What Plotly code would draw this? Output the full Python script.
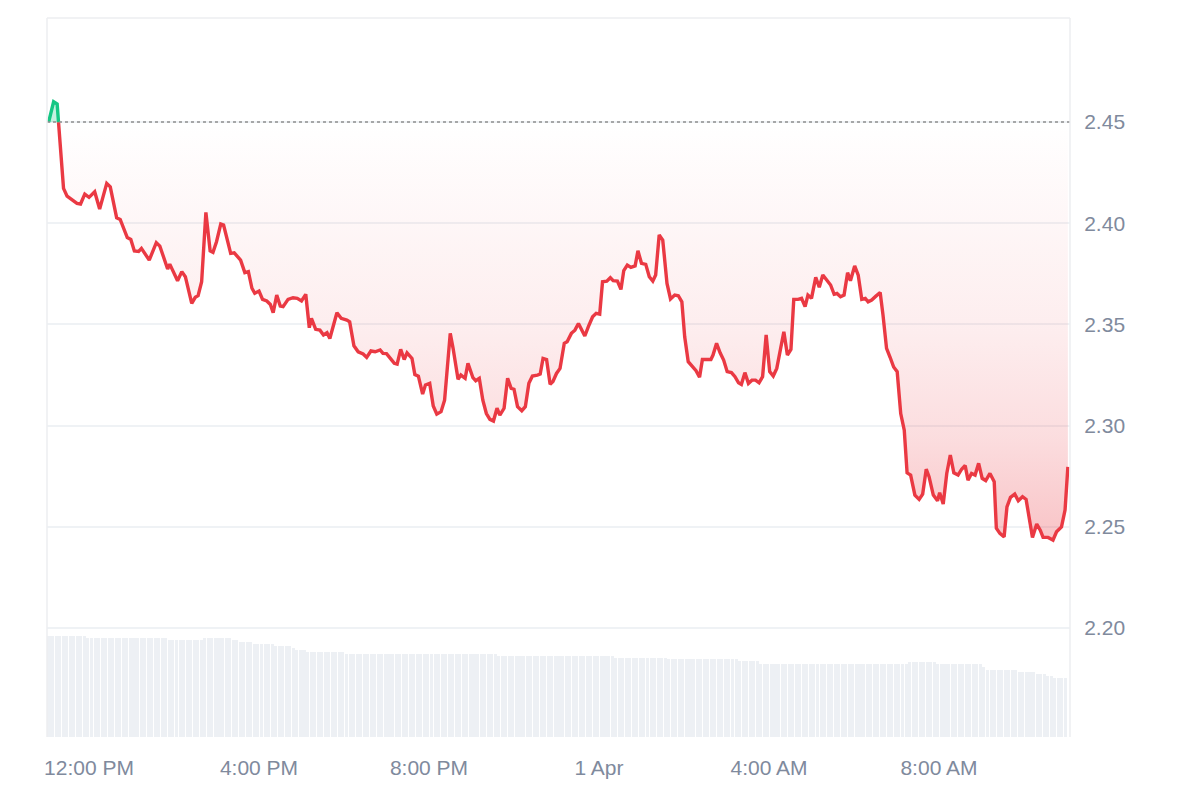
import plotly.graph_objects as go
from datetime import datetime, timedelta

# ---------------- data ----------------
BASE_PRICE = 2.45
series_start = datetime(2025, 3, 31, 11, 0)

# minutes after 11:00 AM (31 Mar) and price
price_minutes = [
    3, 10, 15, 24, 29, 36, 43, 48, 54, 60, 68, 75, 85, 90, 99, 104, 111, 114, 119, 124,
    130, 134, 145, 155, 160, 171, 174, 185, 191, 196, 205, 210, 214, 219, 225, 231, 235, 240, 246, 250,
    260, 265, 274, 280, 285, 290, 294, 300, 305, 311, 316, 320, 325, 330, 334, 341, 348, 354, 360, 366,
    371, 374, 380, 386, 391, 396, 400, 410, 416, 424, 428, 434, 440, 447, 452, 458, 464, 471, 475, 480,
    486, 491, 495, 500, 505, 509, 516, 520, 525, 531, 535, 541, 546, 551, 557, 562, 570, 574, 581, 585,
    591, 595, 602, 606, 611, 616, 621, 626, 631, 636, 640, 646, 651, 656, 660, 665, 671, 676, 681, 686,
    693, 697, 701, 706, 711, 715, 720, 725, 731, 735, 741, 746, 751, 756, 760, 765, 771, 776, 781, 785,
    791, 796, 800, 806, 811, 815, 820, 825, 831, 835, 840, 846, 851, 856, 860, 865, 870, 876, 881, 887,
    892, 897, 901, 906, 912, 917, 922, 926, 932, 938, 941, 946, 951, 956, 961, 967, 972, 977, 981, 986,
    991, 996, 1001, 1006, 1011, 1016, 1021, 1026, 1031, 1036, 1041, 1046, 1051, 1055, 1061, 1066, 1071, 1075, 1080, 1086,
    1091, 1096, 1101, 1107, 1112, 1116, 1121, 1126, 1131, 1135, 1141, 1146, 1151, 1156, 1160, 1165, 1171, 1177, 1181, 1186,
    1191, 1196, 1201, 1206, 1211, 1215, 1220, 1226, 1232, 1237, 1242, 1246, 1252, 1258, 1261, 1266, 1271, 1276, 1281, 1287,
    1292, 1297, 1301, 1306, 1311, 1316, 1321, 1326, 1332, 1338, 1341, 1346, 1352, 1356, 1361, 1367, 1372, 1378, 1383, 1387,
    1392, 1398, 1403, 1407, 1414, 1421, 1426, 1433, 1438, 1442,
]
price_values = [
    2.4500, 2.4600, 2.4589, 2.4172, 2.4134, 2.4115, 2.4098, 2.4095, 2.4144, 2.4128, 2.4156, 2.4070, 2.4197, 2.4180, 2.4027, 2.4019, 2.3950, 2.3929, 2.3920, 2.3863,
    2.3861, 2.3876, 2.3818, 2.3904, 2.3887, 2.3774, 2.3798, 2.3716, 2.3761, 2.3736, 2.3604, 2.3634, 2.3642, 2.3711, 2.4054, 2.3863, 2.3856, 2.3909, 2.3996, 2.3991,
    2.3851, 2.3854, 2.3818, 2.3756, 2.3761, 2.3679, 2.3654, 2.3665, 2.3624, 2.3616, 2.3599, 2.3558, 2.3645, 2.3591, 2.3588, 2.3624, 2.3632, 2.3629, 2.3616, 2.3649,
    2.3484, 2.3530, 2.3476, 2.3472, 2.3448, 2.3459, 2.3431, 2.3558, 2.3530, 2.3522, 2.3513, 2.3395, 2.3365, 2.3354, 2.3337, 2.3369, 2.3365, 2.3374, 2.3357, 2.3356,
    2.3330, 2.3308, 2.3304, 2.3377, 2.3327, 2.3360, 2.3332, 2.3253, 2.3245, 2.3156, 2.3201, 2.3209, 2.3097, 2.3057, 2.3069, 2.3126, 2.3456, 2.3382, 2.3229, 2.3250,
    2.3234, 2.3308, 2.3237, 2.3222, 2.3234, 2.3126, 2.3060, 2.3031, 2.3023, 2.3086, 2.3052, 2.3086, 2.3234, 2.3184, 2.3180, 2.3094, 2.3074, 2.3094, 2.3209, 2.3245,
    2.3250, 2.3255, 2.3332, 2.3327, 2.3205, 2.3218, 2.3258, 2.3283, 2.3407, 2.3415, 2.3456, 2.3472, 2.3505, 2.3472, 2.3443, 2.3489, 2.3538, 2.3555, 2.3551, 2.3711,
    2.3714, 2.3731, 2.3716, 2.3714, 2.3673, 2.3766, 2.3793, 2.3782, 2.3789, 2.3864, 2.3802, 2.3797, 2.3736, 2.3714, 2.3744, 2.3942, 2.3917, 2.3703, 2.3626, 2.3645,
    2.3642, 2.3612, 2.3439, 2.3316, 2.3291, 2.3272, 2.3239, 2.3327, 2.3327, 2.3327, 2.3349, 2.3407, 2.3360, 2.3324, 2.3267, 2.3262, 2.3242, 2.3212, 2.3204, 2.3262,
    2.3209, 2.3225, 2.3225, 2.3212, 2.3242, 2.3448, 2.3267, 2.3245, 2.3283, 2.3365, 2.3464, 2.3349, 2.3377, 2.3624, 2.3624, 2.3629, 2.3588, 2.3645, 2.3629, 2.3733,
    2.3684, 2.3744, 2.3719, 2.3695, 2.3649, 2.3653, 2.3637, 2.3645, 2.3756, 2.3716, 2.3789, 2.3744, 2.3624, 2.3629, 2.3612, 2.3621, 2.3640, 2.3658, 2.3546, 2.3382,
    2.3338, 2.3290, 2.3267, 2.3060, 2.2978, 2.2767, 2.2756, 2.2657, 2.2636, 2.2662, 2.2785, 2.2748, 2.2657, 2.2629, 2.2669, 2.2613, 2.2764, 2.2855, 2.2767, 2.2756,
    2.2785, 2.2803, 2.2731, 2.2764, 2.2756, 2.2814, 2.2740, 2.2729, 2.2764, 2.2723, 2.2493, 2.2468, 2.2451, 2.2599, 2.2646, 2.2662, 2.2629, 2.2649, 2.2636, 2.2547,
    2.2448, 2.2514, 2.2484, 2.2448, 2.2448, 2.2435, 2.2476, 2.2500, 2.2583, 2.2797,
]

# 5-minute volume bars (relative units), first bar centred at 11:03:30
volume_start = datetime(2025, 3, 31, 11, 3, 30)
volume_step_min = 5
volume_values = [
    101.0, 101.0, 101.0, 101.0, 101.0, 101.0, 101.0, 101.0, 101.0, 101.0, 101.0,
    98.7, 98.7, 98.7, 98.7, 98.7, 98.7, 98.7, 98.7, 98.7, 98.7, 98.7, 98.7,
    98.7, 98.7, 98.7, 98.7, 98.7, 98.7, 98.7, 98.7, 98.7, 98.7, 98.7,
    96.7, 96.7, 96.7, 96.7, 96.7, 96.7, 96.7, 96.7, 96.7, 96.7,
    98.7, 98.7, 98.7, 98.7, 98.7, 98.7, 98.7, 98.7,
    96.7, 96.7,
    94.7, 94.7, 94.7, 94.7,
    92.7, 92.7, 92.7, 92.7, 92.7, 92.7,
    90.7, 90.7, 90.7, 90.7, 90.7,
    88.7,
    86.7, 86.7, 86.7,
    84.7, 84.7, 84.7, 84.7, 84.7, 84.7, 84.7, 84.7, 84.7, 84.7, 84.7,
    82.7, 82.7, 82.7, 82.7, 82.7, 82.7, 82.7, 82.7, 82.7, 82.7, 82.7,
    82.7, 82.7, 82.7, 82.7, 82.7, 82.7, 82.7, 82.7, 82.7, 82.7, 82.7,
    82.7, 82.7, 82.7, 82.7, 82.7, 82.7, 82.7, 82.7, 82.7, 82.7, 82.7,
    82.7, 82.7, 82.7, 82.7, 82.7, 82.7, 82.7, 82.7, 82.7, 82.7,
    81.0, 81.0, 81.0, 81.0, 81.0, 81.0, 81.0, 81.0, 81.0, 81.0, 81.0,
    81.0, 81.0, 81.0, 81.0, 81.0, 81.0, 81.0, 81.0, 81.0, 81.0, 81.0,
    81.0, 81.0, 81.0, 81.0, 81.0, 81.0, 81.0, 81.0, 81.0, 81.0, 81.0,
    79.5, 79.5, 79.5, 79.5, 79.5, 79.5, 79.5, 79.5, 79.5, 79.5, 79.5, 79.5, 79.5, 79.5, 79.5,
    78.0, 78.0, 78.0, 78.0, 78.0, 78.0, 78.0, 78.0, 78.0, 78.0,
    78.0, 78.0, 78.0, 78.0, 78.0, 78.0, 78.0, 78.0, 78.0, 78.0,
    76.0, 76.0, 76.0, 76.0, 76.0, 76.0,
    73.0, 73.0, 73.0, 73.0, 73.0, 73.0, 73.0, 73.0, 73.0, 73.0, 73.0, 73.0, 73.0, 73.0,
    73.0, 73.0, 73.0, 73.0, 73.0, 73.0, 73.0, 73.0, 73.0, 73.0, 73.0, 73.0, 73.0, 73.0,
    73.0, 73.0, 73.0, 73.0, 73.0, 73.0, 73.0, 73.0, 73.0, 73.0, 73.0, 73.0, 73.0, 73.0,
    75.0, 75.0, 75.0, 75.0, 75.0, 75.0, 75.0, 75.0,
    73.0, 73.0, 73.0, 73.0, 73.0, 73.0, 73.0, 73.0, 73.0, 73.0, 73.0, 73.0, 73.0,
    70.0,
    66.7, 66.7, 66.7, 66.7, 66.7, 66.7, 66.7, 66.7, 66.7,
    65.0, 65.0, 65.0, 65.0, 65.0,
    63.0, 63.0, 63.0,
    61.0, 61.0,
    59.0, 59.0, 59.0, 59.0,
]

y_tick_values = [2.20, 2.25, 2.30, 2.35, 2.40, 2.45]
y_tick_labels = ["2.20", "2.25", "2.30", "2.35", "2.40", "2.45"]
x_tick_times = [datetime(2025, 3, 31, 12), datetime(2025, 3, 31, 16), datetime(2025, 3, 31, 20),
                datetime(2025, 4, 1, 0), datetime(2025, 4, 1, 4), datetime(2025, 4, 1, 8)]
x_tick_labels = ["12:00 PM", "4:00 PM", "8:00 PM", "1 Apr", "4:00 AM", "8:00 AM"]

# ---------------- styling ----------------
RED = "#ea3943"
GREEN = "#16c784"
GRID = "#eff2f5"
TEXT = "#808a9d"
FONT = "Liberation Sans, Arial, sans-serif"

# ---------------- build segments (split at baseline crossings) ----------------
pts = []
for i, (m, v) in enumerate(zip(price_minutes, price_values)):
    if i > 0:
        m0, v0 = price_minutes[i - 1], price_values[i - 1]
        if (v0 - BASE_PRICE) * (v - BASE_PRICE) < 0:
            mc = m0 + (m - m0) * (BASE_PRICE - v0) / (v - v0)
            pts.append((mc, BASE_PRICE))
    pts.append((m, v))

xs = [series_start + timedelta(minutes=m) for m, _ in pts]
ys = [v for _, v in pts]
low = [min(v, BASE_PRICE) for v in ys]
high = [max(v, BASE_PRICE) for v in ys]
red_line = [v if v <= BASE_PRICE else None for v in ys]
green_line = [v if v >= BASE_PRICE else None for v in ys]
base_line = [BASE_PRICE for _ in ys]

vol_x = [volume_start + timedelta(minutes=volume_step_min * i) for i in range(len(volume_values))]

fig = go.Figure()

fig.add_trace(go.Bar(
    x=vol_x, y=volume_values, yaxis="y2",
    marker=dict(color="#edf0f4", line=dict(width=0)),
    width=volume_step_min * 60 * 1000 * 0.86,
    hoverinfo="skip", showlegend=False,
))

fig.add_trace(go.Scatter(x=xs, y=base_line, mode="lines", line=dict(width=0),
                         hoverinfo="skip", showlegend=False))
fig.add_trace(go.Scatter(
    x=xs, y=low, mode="lines", line=dict(width=0), fill="tonexty",
    fillgradient=dict(type="vertical", colorscale=[
        [0.0, "rgba(234,57,67,0.30)"],
        [0.25, "rgba(234,57,67,0.17)"],
        [0.5, "rgba(234,57,67,0.09)"],
        [0.75, "rgba(234,57,67,0.045)"],
        [1.0, "rgba(234,57,67,0.0)"],
    ]),
    hoverinfo="skip", showlegend=False))

fig.add_trace(go.Scatter(x=xs, y=base_line, mode="lines", line=dict(width=0),
                         hoverinfo="skip", showlegend=False))
fig.add_trace(go.Scatter(x=xs, y=high, mode="lines", line=dict(width=0), fill="tonexty",
                         fillcolor="rgba(22,199,132,0.25)", hoverinfo="skip", showlegend=False))

fig.add_trace(go.Scatter(x=xs, y=red_line, mode="lines", connectgaps=False,
                         line=dict(color=RED, width=3.4), showlegend=False))
fig.add_trace(go.Scatter(x=xs, y=green_line, mode="lines", connectgaps=False,
                         line=dict(color=GREEN, width=3.4), showlegend=False))

shapes = [
    dict(type="line", xref="paper", yref="y", x0=0, x1=1, y0=BASE_PRICE, y1=BASE_PRICE,
         line=dict(color="#8f8f8f", width=1.6, dash="dot"), layer="above"),
    dict(type="line", xref="paper", yref="paper", x0=0, x1=0, y0=0, y1=1,
         line=dict(color="#eceef1", width=1.5)),
    dict(type="line", xref="paper", yref="paper", x0=1, x1=1, y0=0, y1=1,
         line=dict(color="#eceef1", width=1.5)),
    dict(type="line", xref="paper", yref="paper", x0=0, x1=1, y0=1, y1=1,
         line=dict(color="#eceef1", width=1.5)),
]

fig.update_layout(
    width=1200, height=800,
    margin=dict(l=47, r=130, t=18, b=63),
    paper_bgcolor="white", plot_bgcolor="white",
    font=dict(family=FONT, color=TEXT, size=21),
    showlegend=False,
    bargap=0,
    shapes=shapes,
    xaxis=dict(
        type="date",
        range=[series_start + timedelta(seconds=40), series_start + timedelta(minutes=1445)],
        showgrid=False, zeroline=False, showline=False,
        tickvals=x_tick_times, ticktext=x_tick_labels,
        ticks="outside", ticklen=12, tickcolor="rgba(0,0,0,0)",
        tickfont=dict(size=21, color=TEXT, family=FONT),
    ),
    yaxis=dict(
        side="right",
        range=[2.1462, 2.5014],
        tickvals=y_tick_values, ticktext=y_tick_labels,
        showgrid=True, gridcolor=GRID, gridwidth=1.5,
        zeroline=False, showline=False,
        ticks="outside", ticklen=9, tickcolor="rgba(0,0,0,0)",
        tickfont=dict(size=21, color=TEXT, family=FONT),
    ),
    yaxis2=dict(
        overlaying="y", side="right",
        range=[0, max(volume_values) * 7.12],
        visible=False, showgrid=False, zeroline=False,
    ),
)

fig.write_html("out.html", config={"displayModeBar": False},
               post_script="document.body.style.margin='0';")
